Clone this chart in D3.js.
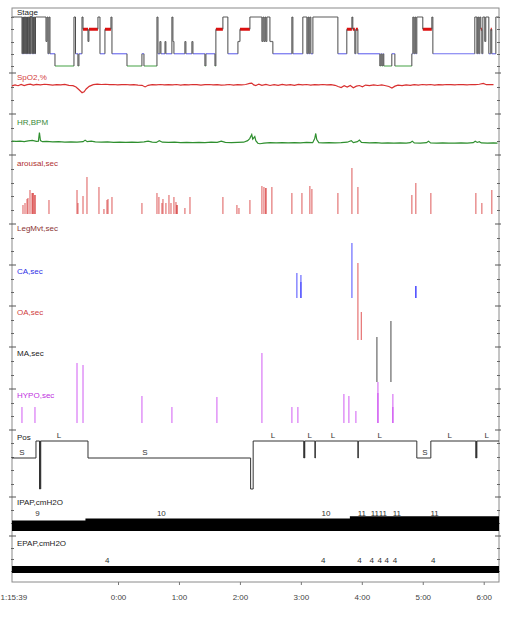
<!DOCTYPE html>
<html><head><meta charset="utf-8">
<script src="https://cdn.jsdelivr.net/npm/d3@7"></script>
<style>
body{margin:0;background:#fff}
text{font-family:"Liberation Sans",Arial,sans-serif;font-size:8px}
</style>
</head><body>
<svg id="c" width="512" height="621"></svg>
<script>
// ---------- DATA (time = minutes since recording start 22:15:39) ----------
const startClock = "1:15:39";
const hourLabels = ["0:00","1:00","2:00","3:00","4:00","5:00","6:00"];
const firstMidnightMin = 104.35;
const recordEnd = 479.4;

const panelNames  = ["Stage","SpO2,%","HR,BPM","arousal,sec","LegMvt,sec","CA,sec","OA,sec","MA,sec","HYPO,sec","Pos","IPAP,cmH2O","EPAP,cmH2O"];
const stageLevels = ["W","R","N1","N2","N3"];

const hypnogram = [
[0,"W"],[9.84,"N2"],[10.53,"W"],[11.22,"N2"],[11.81,"W"],[12.5,"N2"],[13.09,"W"],[13.78,"N2"],[14.37,"W"],
[15.25,"N2"],[15.94,"W"],[16.63,"N2"],[17.32,"W"],[18.01,"N2"],[18.7,"W"],
[19.68,"N2"],[20.37,"W"],[21.06,"N2"],[21.75,"W"],[22.44,"N2"],[23.12,"W"],
[33.46,"N1"],[34.44,"W"],[35.42,"N2"],[36.41,"W"],[37.39,"N2"],[42.31,"N3"],
[61.0,"W"],[62.5,"N2"],[64.9,"N3"],[65.9,"N2"],[68.9,"W"],[69.9,"R"],[74.8,"N1"],[75.7,"R"],
[84.6,"W"],[86.6,"N2"],[91.5,"R"],[97.4,"W"],[98.4,"N2"],[113.2,"N3"],[127.9,"N2"],[129.9,"N3"],
[142.7,"W"],[143.7,"N2"],[145.6,"N1"],[146.6,"N2"],[150.6,"N1"],[151.5,"N2"],[157.4,"W"],[158.4,"N1"],[159.4,"N2"],
[170.2,"N1"],[171.2,"N2"],[177.1,"N1"],[178.1,"N2"],[189.9,"N3"],[190.9,"N2"],[199.8,"N3"],[200.7,"R"],
[207.6,"W"],[212.5,"N2"],[222.4,"N1"],[224.4,"R"],[234.2,"W"],
[246,"N1"],[247,"W"],[248,"N1"],[249,"W"],[249.9,"N1"],[250.9,"W"],[253.9,"N1"],[256.8,"N2"],
[275.5,"W"],[276.5,"N2"],[286.3,"W"],[290.3,"N2"],[291.3,"W"],[292.2,"N2"],[293.2,"W"],[294.2,"N2"],[296.2,"W"],
[320.8,"N2"],[329.6,"R"],[334.6,"W"],[335.5,"R"],[337.5,"N2"],[338.5,"R"],[340.5,"N2"],
[362.1,"N3"],[363.1,"N2"],[364.1,"N3"],[365.1,"N2"],[366.0,"N3"],[373.9,"N2"],[376.9,"N3"],
[393.6,"N2"],[394.6,"W"],[395.6,"N2"],[396.6,"W"],[397.5,"N2"],[398.5,"W"],[404.4,"R"],[413.3,"W"],[414.3,"N2"],
[455.6,"W"],[457.6,"N2"],[458.5,"W"],[459.5,"N2"],[460.5,"W"],[461.5,"R"],[462.5,"N2"],[463.5,"W"],
[465.4,"N1"],[466.4,"W"],[469.4,"N2"],[471.3,"R"],[472.3,"N2"],[476.3,"W"]
];

const spo2 = [
[0,93.7],[3,94.2],[6,93.8],[9,94.4],[12,93.9],[15,94.3],[18,94.6],[21,94.1],[24,94.4],[28,94.2],[32,94.5],[36,94.3],[40,94.1],[44,94.3],[48,94.2],[52,94.4],[56,94.0],[60,93.8],[63,93.2],[66,91.8],[69,90.4],[71,90.8],[73,92.2],[76,93.5],[80,94.3],[84,94.6],[88,94.4],[92,94.5],[96,94.3],[100,94.4],[104,94.2],[108,94.3],[112,94.4],[116,94.2],[120,94.3],[124,94.1],[128,94.0],[131,93.2],[134,94.0],[138,94.3],[142,94.2],[146,94.4],[150,94.2],[154,94.3],[158,94.2],[162,94.4],[166,94.1],[170,94.3],[174,94.2],[178,94.4],[182,94.3],[186,94.1],[190,94.3],[194,94.4],[198,94.2],[202,94.3],[206,94.1],[210,94.2],[214,94.4],[218,94.1],[222,94.3],[226,94.2],[230,94.4],[234,94.9],[236,95.1],[238,94.2],[240,93.9],[243,94.6],[246,94.0],[250,94.4],[254,93.9],[258,94.3],[262,94.0],[266,94.4],[270,94.1],[274,94.3],[278,94.0],[282,94.4],[286,94.2],[290,94.4],[294,94.1],[298,94.3],[302,94.2],[306,94.4],[310,94.2],[314,94.3],[318,94.0],[321,93.4],[324,92.9],[327,93.8],[330,93.1],[333,93.9],[336,92.8],[339,93.6],[342,93.9],[345,93.3],[348,94.1],[352,93.8],[356,94.2],[360,93.9],[364,94.2],[368,93.8],[371,93.4],[374,92.7],[377,93.6],[380,94.1],[384,93.8],[388,94.2],[392,94.0],[396,94.3],[400,94.1],[404,94.4],[408,94.2],[412,94.4],[416,94.1],[420,94.3],[424,94.2],[428,94.4],[432,94.3],[436,94.2],[440,94.4],[444,94.3],[448,94.2],[452,94.4],[456,94.3],[460,94.5],[464,94.9],[467,94.3],[470,94.4],[474,94.3]
];

const heartRate = [
[0,67],[4,66.5],[8,67],[12,66],[16,67.5],[20,68.5],[24,66.5],[26,67],[27,84],[28,68],[30,66],[34,66.5],[40,65.5],[46,66],[52,65],[58,65.5],[64,65],[70,66],[72,69],[74,66],[78,67],[82,65.5],[88,65],[94,65.5],[100,64.5],[106,65],[112,64.5],[118,65],[124,64.5],[130,65.5],[134,67],[138,65],[142,64.5],[145,68],[148,65],[154,64.5],[160,65],[166,64],[172,64.5],[178,64],[184,64.5],[190,64],[196,65],[202,64.5],[206,67],[210,64.5],[216,64],[222,64.5],[228,65],[232,68],[234,72],[236,80],[237,71],[239,76],[240,68],[242,63],[244,62],[248,63],[254,64],[260,63.5],[266,64],[272,63.5],[278,64],[284,63.5],[290,64.5],[296,64],[298,72],[299,82],[300,70],[302,64],[306,63.5],[312,64],[318,63.5],[324,64],[330,65],[334,68],[336,64],[340,66],[342,69],[344,64.5],[348,64],[352,63.5],[358,64],[364,63],[370,63.5],[376,63],[382,63.5],[388,63],[392,64],[394,67],[396,63.5],[402,63],[408,64],[410,67],[412,63.5],[418,63],[424,63.5],[430,63],[436,63],[442,63.5],[448,63],[454,64],[456,67],[458,64.5],[460,66],[462,63.5],[468,63],[474,63.5],[478,63]
];

const arousals = [
[10.8,3.5],[12.8,4.3],[14.8,5.9],[15.7,6.3],[17.7,9.4],[19.7,8.2],[20.7,8.2],[20.7,8.2],[22.6,7.5],[22.6,7.5],[36.4,5.5],
[64,9.4],[64.9,4.3],[69.9,7.1],[73.8,14.5],[85.6,10.6],[90.5,2],[93.5,5.5],[94.5,5.9],[98.4,6.7],[127.9,4.3],
[142.7,8.2],[144.6,6.7],[147.6,4.3],[148.6,5.9],[151.5,4.3],[154.5,7.5],[156.5,4.3],[159.4,6.7],[161.4,4.7],[162.4,3.5],[162.4,3.5],
[170.2,2.4],[175.2,6.7],[207.6,6.7],[221.4,3.5],[223.4,2.4],[234.2,5.5],[246,11],[248,10.6],[249.9,10.2],[249.9,10.2],[255.8,10.6],
[275.5,8.2],[285.4,8.2],[293.2,11],[295.2,9.8],[320.8,8.2],[334.6,18],[340.5,10.6],[393.6,7.5],[397.5,12.2],[412.3,8.2],
[456.6,8.2],[462.5,4.3],[472.3,9.4]
];
const legMovements = [];
const centralApneas = [[280.4,12.5],[284.4,11.5],[284.4,8],[334.6,27.5],[397.5,6],[397.5,6]];
const obstructiveApneas = [[340.5,38.5],[343.9,14]];
const mixedApneas = [[359.2,22.5],[373.0,30.5]];
const hypopneas = [[9.8,8],[22.6,8],[64,30],[69.9,29],[127.9,13.5],[157.4,8],[201.7,13],[246,35],[275.5,8],[281.4,8],
[326.7,14.5],[331.6,13.5],[338.5,6],[360.2,20.5],[360.2,15],[374.9,14.5],[374.9,8]];

const positions = [[0,"S"],[23.6,"L"],[27.1,"U"],[27.5,"L"],[27.9,"U"],[28.3,"L"],[74.8,"S"],[234.9,"U"],[237.4,"L"],
[287.3,"S"],[287.6,"L"],[287.9,"S"],[288.2,"L"],[298.2,"S"],[298.6,"L"],[340.5,"S"],[340.9,"L"],
[398.5,"S"],[412.3,"L"],[456.6,"S"],[457.0,"L"],[457.3,"S"],[457.6,"L"]];
const positionLabels = [[9.8,"S"],[46.2,"L"],[130.9,"S"],[256.8,"L"],[293.2,"L"],[315.9,"L"],[362.1,"L"],[406.4,"S"],[431,"L"],[467.4,"L"]];

const ipapSteps = [[0,9],[72.3,10],[332.6,11],[479.4,11]];
const ipapLabels = [[25,"9"],[147,"10"],[309,"10"],[344.4,"11"],[357.2,"11"],[365.1,"11"],[378.8,"11"],[416,"11"]];
const epapSteps = [[0,4],[479.4,4]];
const epapLabels = [[93.8,"4"],[306.3,"4"],[342,"4"],[354,"4"],[362,"4"],[369,"4"],[377,"4"],[414.6,"4"]];

// ---------- LAYOUT ----------
const L = 12, R = 499, T = 8, B = 582;
const panels = [
 {top:8,bottom:73,label:15,color:"#222"},
 {top:73,bottom:114,label:80,color:"#d43c3c"},
 {top:114,bottom:155,label:125,color:"#3a8a3a"},
 {top:155,bottom:224,label:166,color:"#b03030"},
 {top:224,bottom:265,label:231,color:"#8b3434"},
 {top:265,bottom:306,label:274,color:"#2f2fe6"},
 {top:306,bottom:347,label:315,color:"#d04040"},
 {top:347,bottom:389,label:356,color:"#222"},
 {top:389,bottom:430,label:398,color:"#c030e0"},
 {top:430,bottom:497,label:440,color:"#222"},
 {top:497,bottom:536,label:505,color:"#222"},
 {top:536,bottom:582,label:546,color:"#222"}
];

const svg = d3.select("#c");
const x = d3.scaleLinear().domain([0, recordEnd]).range([L, R]);
const ys = d3.scalePoint().domain(stageLevels).range([17,66]);

// frame
svg.append("rect").attr("x",L).attr("y",T).attr("width",R-L).attr("height",B-T)
  .attr("fill","none").attr("stroke","#8a8a8a").attr("stroke-width",1);

// ticks on left/right borders
panels.forEach((p,i)=>{
  if(i>0){
    svg.append("line").attr("x1",L-3).attr("x2",L+4).attr("y1",p.top).attr("y2",p.top).attr("stroke","#555");
    svg.append("line").attr("x1",R-4).attr("x2",R+2).attr("y1",p.top).attr("y2",p.top).attr("stroke","#555");
  }
  let minors;
  if(i===0){ minors = stageLevels.map(s=>ys(s)); }
  else {
    const n = Math.max(2, Math.round((p.bottom-p.top)/13));
    const sub = d3.scaleLinear().domain([0,n]).range([p.top,p.bottom]);
    minors = d3.range(1,n).map(k=>sub(k));
  }
  minors.forEach(v=>{
    const yy = Math.round(v)+0.5;
    svg.append("line").attr("x1",L-1).attr("x2",L+2).attr("y1",yy).attr("y2",yy).attr("stroke","#666");
    svg.append("line").attr("x1",R-2).attr("x2",R+1).attr("y1",yy).attr("y2",yy).attr("stroke","#666");
  });
  svg.append("text").attr("x",17).attr("y",p.label).attr("fill",p.color).text(panelNames[i]);
});

// ---------- Hypnogram ----------
const stageColor = {W:"#777",R:"#dd1010",N1:"#777",N2:"#7272f0",N3:"#62b062"};
const gH = svg.append("g");
hypnogram.forEach((d,i)=>{
  const t1 = i<hypnogram.length-1 ? hypnogram[i+1][0] : recordEnd;
  gH.append("line").attr("x1",x(d[0])).attr("x2",x(t1)).attr("y1",ys(d[1])).attr("y2",ys(d[1]))
    .attr("stroke",stageColor[d[1]]).attr("stroke-width",d[1]==="R"?3:1.2);
});
hypnogram.forEach((d,i)=>{
  if(i===hypnogram.length-1) return;
  const nx = hypnogram[i+1];
  gH.append("line").attr("x1",x(nx[0])).attr("x2",x(nx[0])).attr("y1",ys(d[1])).attr("y2",ys(nx[1]))
    .attr("stroke","#4a4a4a").attr("stroke-width",1);
});

// ---------- SpO2 / HR ----------
const ySp = d3.scaleLinear().domain([80,100]).range([114,73]);
svg.append("path").datum(spo2).attr("fill","none").attr("stroke","#d83030").attr("stroke-width",1.2)
  .attr("d",d3.line().x(d=>x(d[0])).y(d=>ySp(d[1])));
const yHr = d3.scaleLinear().domain([40,120]).range([155,114]);
svg.append("path").datum(heartRate).attr("fill","none").attr("stroke","#2f8f2f").attr("stroke-width",1.2)
  .attr("d",d3.line().x(d=>x(d[0])).y(d=>yHr(d[1])));

// ---------- event bars ----------
function bars(data, yScale, color, op, w){
  svg.append("g").selectAll("line").data(data).join("line")
    .attr("x1",d=>x(d[0])).attr("x2",d=>x(d[0]))
    .attr("y1",yScale(0)).attr("y2",d=>yScale(d[1]))
    .attr("stroke",color).attr("stroke-opacity",op).attr("stroke-width",w);
}
bars(arousals, d3.scaleLinear().domain([0,20]).range([214,163]), "#d42a2a", 0.6, 1.3);
bars(legMovements, d3.scaleLinear().domain([0,20]).range([258,218]), "#8b3434", 0.6, 1.3);
bars(centralApneas, d3.scaleLinear().domain([0,20]).range([298,258]), "#2a2aff", 0.6, 1.4);
bars(obstructiveApneas, d3.scaleLinear().domain([0,20]).range([340,300]), "#e05050", 0.75, 1.3);
bars(mixedApneas, d3.scaleLinear().domain([0,20]).range([382,342]), "#444", 0.75, 1.3);
bars(hypopneas, d3.scaleLinear().domain([0,20]).range([423,383]), "#c83cf0", 0.6, 1.4);

// ---------- Position ----------
const yPos = d3.scaleOrdinal().domain(["L","S","U"]).range([441,458,489]);
svg.append("path").datum(positions.concat([[recordEnd, positions[positions.length-1][1]]]))
  .attr("fill","none").attr("stroke","#333").attr("stroke-width",1)
  .attr("d",d3.line().curve(d3.curveStepAfter).x(d=>x(d[0])).y(d=>yPos(d[1])));
svg.append("g").selectAll("text").data(positionLabels).join("text")
  .attr("x",d=>x(d[0])).attr("y",d=>yPos(d[1])-3).attr("text-anchor","middle").attr("fill","#333").text(d=>d[1]);

// ---------- IPAP / EPAP ----------
const yIp = d3.scaleLinear().domain([0,20]).range([539.4,497.4]);
svg.append("path").datum(ipapSteps).attr("fill","#000")
  .attr("d",d3.area().curve(d3.curveStepAfter).x(d=>x(d[0])).y0(yIp(4)).y1(d=>yIp(d[1])));
svg.append("g").selectAll("text").data(ipapLabels).join("text")
  .attr("x",d=>x(d[0])).attr("y",516).attr("text-anchor","middle").attr("fill","#333").text(d=>d[1]);
const yEp = d3.scaleLinear().domain([0,20]).range([573,538]);
svg.append("path").datum(epapSteps).attr("fill","#000")
  .attr("d",d3.area().curve(d3.curveStepAfter).x(d=>x(d[0])).y0(yEp(0)).y1(d=>yEp(d[1])));
svg.append("g").selectAll("text").data(epapLabels).join("text")
  .attr("x",d=>x(d[0])).attr("y",563).attr("text-anchor","middle").attr("fill","#333").text(d=>d[1]);

// ---------- time axis ----------
const tickMins = hourLabels.map((h,i)=>firstMidnightMin+60*i);
const ax = svg.append("g").attr("transform",`translate(0,${B})`)
  .call(d3.axisBottom(x).tickValues(tickMins).tickFormat((d,i)=>hourLabels[i]).tickSize(3).tickPadding(9));
ax.select(".domain").remove();
ax.selectAll("line").attr("stroke","#777");
ax.selectAll("text").attr("fill","#444").style("font-size","8px").attr("font-family","Liberation Sans, Arial, sans-serif");
svg.append("text").attr("x",0.5).attr("y",600).attr("fill","#444").text(startClock);
</script>
</body></html>
